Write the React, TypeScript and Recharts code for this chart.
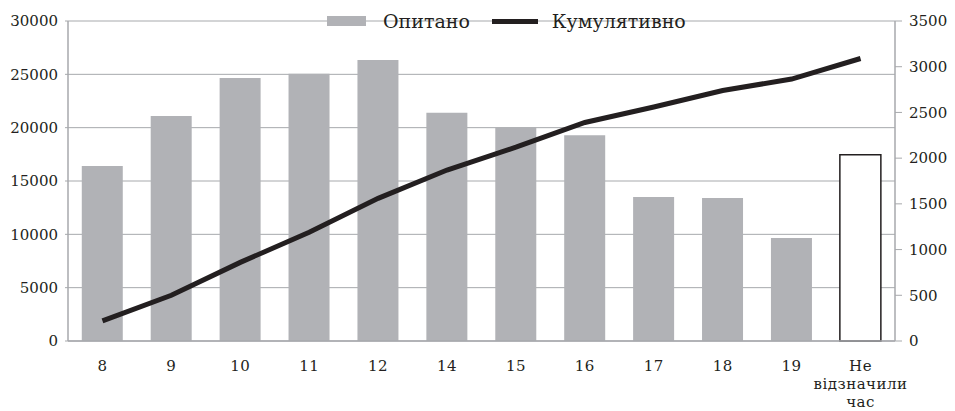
import React from "react"
import {
  Bar,
  CartesianGrid,
  Cell,
  ComposedChart,
  Line,
  XAxis,
  YAxis,
} from "recharts"

const HOURS = ["8", "9", "10", "11", "12", "14", "15", "16", "17", "18", "19", "Не відзначили час"]
const SURVEYED = [16400, 21100, 24650, 25050, 26350, 21400, 20050, 19300, 13500, 13400, 9650, 17450]
const CUMULATIVE = [220, 500, 860, 1190, 1560, 1870, 2120, 2390, 2560, 2740, 2865, 3090]
const LEFT_TICKS = [0, 5000, 10000, 15000, 20000, 25000, 30000]
const RIGHT_TICKS = [0, 500, 1000, 1500, 2000, 2500, 3000, 3500]
const SERIES_NAMES = { bar: "Опитано", line: "Кумулятивно" }

const data = HOURS.map((h, i) => ({ hour: h, surveyed: SURVEYED[i], cumulative: CUMULATIVE[i] }))

const INK = "#231f20"
const GREY_BAR = "#b1b2b6"
const GRID = "#a7a9ac"
const FONT = "'DejaVu Serif', serif"
const FONT_SIZE = 15

const tickStyle = { fill: INK, fontSize: FONT_SIZE, fontFamily: FONT }

function XTick({ x, y, payload }: any) {
  const lines = String(payload.value).split(" ")
  return (
    <text x={x} y={y} textAnchor="middle" fill={INK} fontSize={FONT_SIZE} fontFamily={FONT} letterSpacing={0.5}>
      {lines.map((line, i) => (
        <tspan key={i} x={x} dy={i === 0 ? "0.71em" : 18}>
          {line}
        </tspan>
      ))}
    </text>
  )
}

// drawn outside the chart so it takes no room from the plot
function LegendBox() {
  return (
    <div
      style={{
        position: "absolute",
        top: 2,
        left: 319,
        display: "flex",
        alignItems: "center",
        fontFamily: FONT,
        fontSize: 19,
        color: INK,
        lineHeight: "22px",
        whiteSpace: "nowrap",
      }}
    >
      <span style={{ width: 39, height: 10, background: GREY_BAR, marginRight: 17 }} />
      <span style={{ marginRight: 22 }}>{SERIES_NAMES.bar}</span>
      <span style={{ width: 46, height: 5, background: INK, marginRight: 14 }} />
      <span>{SERIES_NAMES.line}</span>
    </div>
  )
}

export default function App() {
  return (
    <div style={{ position: "relative", width: 947, height: 403 }}>
      <ComposedChart
        width={947}
        height={403}
        data={data}
        margin={{ top: 13, right: 0, bottom: 0, left: 0 }}
        barCategoryGap="20%"
      >
        <CartesianGrid yAxisId="left" stroke={GRID} vertical={false} />
        <XAxis
          dataKey="hour"
          interval={0}
          height={70}
          tick={<XTick />}
          tickLine={false}
          tickSize={0}
          tickMargin={19}
          axisLine={{ stroke: GRID, strokeWidth: 1.5 }}
        />
        <YAxis
          yAxisId="left"
          orientation="left"
          width={60}
          domain={[0, 30000]}
          ticks={LEFT_TICKS}
          tick={tickStyle}
          tickSize={3}
          tickMargin={7}
          tickLine={{ stroke: GRID }}
          axisLine={{ stroke: GRID, strokeWidth: 1.5 }}
        />
        <YAxis
          yAxisId="right"
          orientation="right"
          width={60}
          domain={[0, 3500]}
          ticks={RIGHT_TICKS}
          tick={{ ...tickStyle, textAnchor: "start" }}
          tickSize={7}
          tickMargin={7}
          tickLine={{ stroke: GRID }}
          axisLine={{ stroke: GRID, strokeWidth: 1.5 }}
        />
        <Bar yAxisId="left" dataKey="surveyed" name={SERIES_NAMES.bar} fill={GREY_BAR} isAnimationActive={false}>
          {data.map((d, i) => (
            <Cell
              key={d.hour}
              fill={i === data.length - 1 ? "#ffffff" : GREY_BAR}
              stroke={i === data.length - 1 ? INK : "none"}
              strokeWidth={i === data.length - 1 ? 1.5 : 0}
            />
          ))}
        </Bar>
        <Line
          yAxisId="right"
          dataKey="cumulative"
          name={SERIES_NAMES.line}
          type="linear"
          stroke={INK}
          strokeWidth={5}
          dot={false}
          activeDot={false}
          isAnimationActive={false}
        />
      </ComposedChart>
      <LegendBox />
    </div>
  )
}
